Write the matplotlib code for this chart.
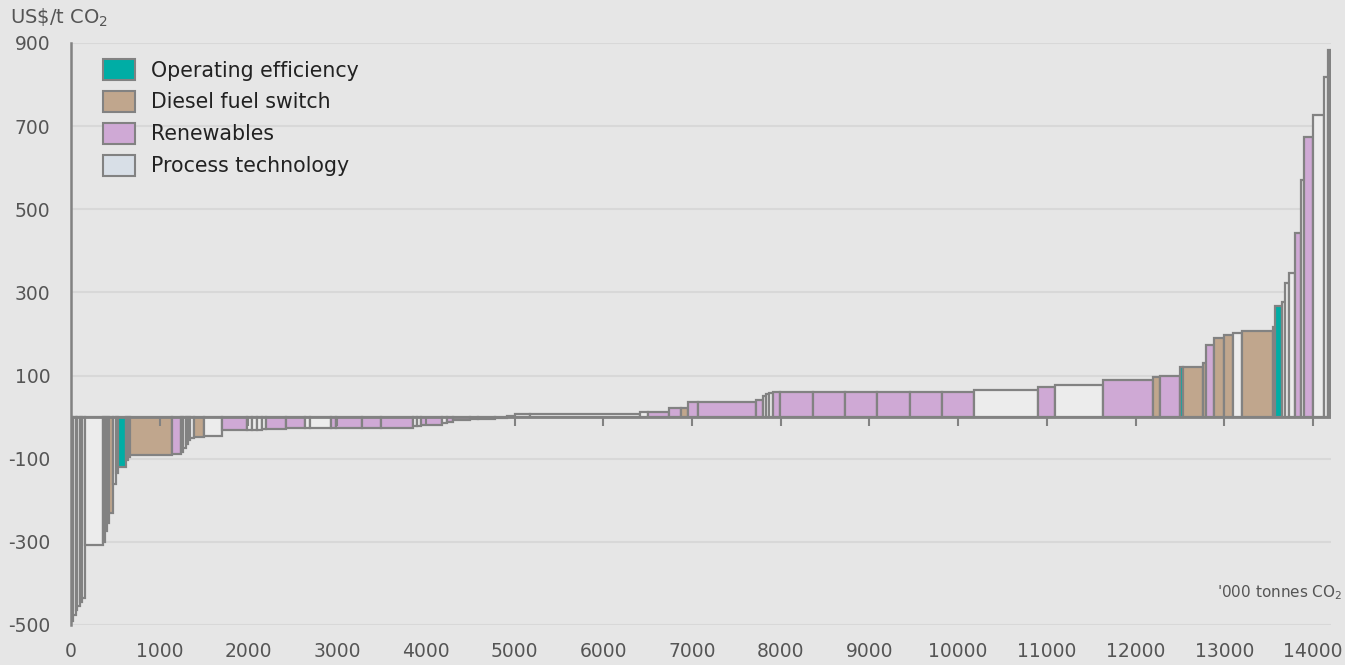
import numpy as np
import matplotlib
matplotlib.use("Agg")
import matplotlib.pyplot as plt
from matplotlib.patches import Patch

plt.rcParams['font.family'] = ['DejaVu Sans']
plt.rcParams['mathtext.default'] = 'regular'
plt.rcParams['axes.unicode_minus'] = False

# data: abatement measures, left to right
# -------------------------------------------------------------------------------------
# width = abatement ('000 t CO2), cost = US$/t CO2, cat = measure type
widths = [28, 23, 22, 28, 23, 39, 198, 22, 23, 22,
          49, 30, 26, 87, 26, 19, 470, 102, 25, 29,
          28, 22, 40, 118, 203, 282, 56, 57, 56, 45,
          226, 214, 56, 237, 56, 293, 214, 361, 45, 45,
          237, 56, 68, 192, 90, 191, 136, 90, 169, 1240,
          90, 232, 135, 79, 113, 658, 79, 34, 34, 45,
          79, 372, 361, 360, 372, 361, 361, 721, 192, 541,
          563, 79, 226, 33, 226, 34, 90, 113, 101, 102,
          349, 23, 79, 34, 45, 68, 67, 34, 101, 124,
          45, 23]
costs = [-490, -475, -465, -455, -445, -435, -307, -300, -275, -255,
         -231, -160, -135, -120, -103, -96, -91, -89, -85, -75,
         -65, -55, -50, -48, -45, -31, -30, -30, -30, -29,
         -29, -26, -25, -25, -26, -26, -26, -26, -22, -22,
         -20, -14, -12, -8, -5, -4, -2, 3, 7, 7,
         12, 12, 22, 22, 36, 36, 41, 50, 55, 58,
         60, 60, 60, 60, 60, 60, 60, 65, 72, 77,
         89, 96, 99, 120, 121, 130, 173, 190, 197, 202,
         207, 216, 267, 277, 322, 346, 443, 570, 673, 726,
         818, 883]
cats = ['P', 'P', 'P', 'P', 'O', 'P', 'P', 'P', 'P', 'P',
        'D', 'P', 'P', 'O', 'P', 'R', 'D', 'R', 'P', 'P',
        'P', 'P', 'P', 'D', 'P', 'R', 'P', 'P', 'P', 'P',
        'R', 'R', 'P', 'P', 'R', 'R', 'R', 'R', 'P', 'P',
        'R', 'P', 'R', 'R', 'P', 'P', 'P', 'P', 'P', 'P',
        'P', 'R', 'R', 'D', 'R', 'R', 'R', 'P', 'P', 'P',
        'R', 'R', 'R', 'R', 'R', 'R', 'R', 'P', 'R', 'P',
        'R', 'D', 'R', 'O', 'D', 'D', 'R', 'D', 'D', 'P',
        'D', 'D', 'O', 'P', 'P', 'P', 'R', 'P', 'R', 'P',
        'P', 'P']

cat_names = {'O': 'Operating efficiency', 'D': 'Diesel fuel switch',
             'R': 'Renewables', 'P': 'Process technology'}
bar_colors = {'O': '#00ada5', 'D': '#c0a68d', 'R': '#cfa9d5', 'P': '#ececec'}
legend_colors = {'O': '#00ada5', 'D': '#c0a68d', 'R': '#cfa9d5', 'P': '#d8dfe7'}

yticks = [-500, -300, -100, 100, 300, 500, 700, 900]
xticks = list(range(0, 15000, 1000))

# plot
# -------------------------------------------------------------------------------------
bg = '#e6e6e6'
edge = '#828282'
fig = plt.figure(figsize=(13.45, 6.65), dpi=100, facecolor=bg)
ax = fig.add_axes([0.0528, 0.0602, 0.9366, 0.8752], facecolor=bg)

lefts = np.concatenate([[0], np.cumsum(widths)[:-1]])
ax.bar(lefts, costs, width=widths, align='edge',
       color=[bar_colors[c] for c in cats], edgecolor=edge, linewidth=1.6, zorder=3)

ax.set_xlim(0, 14200)
ax.set_ylim(-500, 900)

for y in yticks:
    ax.axhline(y, color='#d8d8d8', lw=1.5, zorder=1)
ax.axhline(0, xmax=sum(widths) / 14200, color=edge, lw=2, zorder=4)
ax.vlines(xticks, -22, 0, color=edge, lw=1.5, zorder=4)

for s in ['top', 'right', 'bottom']:
    ax.spines[s].set_visible(False)
ax.spines['left'].set_color(edge)
ax.spines['left'].set_linewidth(1.8)

ax.set_yticks(yticks)
ax.set_xticks(xticks)
ax.tick_params(axis='y', length=0, pad=15, labelsize=13.5, labelcolor='#555555')
ax.tick_params(axis='x', length=0, pad=12, labelsize=13.5, labelcolor='#555555')

fig.text(10 / 1345, 1 - 18 / 665, 'US\\$/t CO$_2$', fontsize=14, color='#555555',
         ha='left', va='center')
fig.text(1217 / 1345, 1 - 593 / 665, "'000 tonnes CO$_2$", fontsize=11, color='#555555',
         ha='left', va='center')

handles = [Patch(facecolor=legend_colors[k], edgecolor=edge, linewidth=1.5, label=cat_names[k])
           for k in ['O', 'D', 'R', 'P']]
ax.legend(handles=handles, loc='upper left', bbox_to_anchor=(0.0254, 0.972),
          frameon=False, fontsize=14.8, handlelength=1.55, handleheight=1.2,
          handletextpad=0.8, labelspacing=0.5, borderpad=0, borderaxespad=0,
          labelcolor='#222222')

fig.savefig('out.png', dpi=100, facecolor=bg)
